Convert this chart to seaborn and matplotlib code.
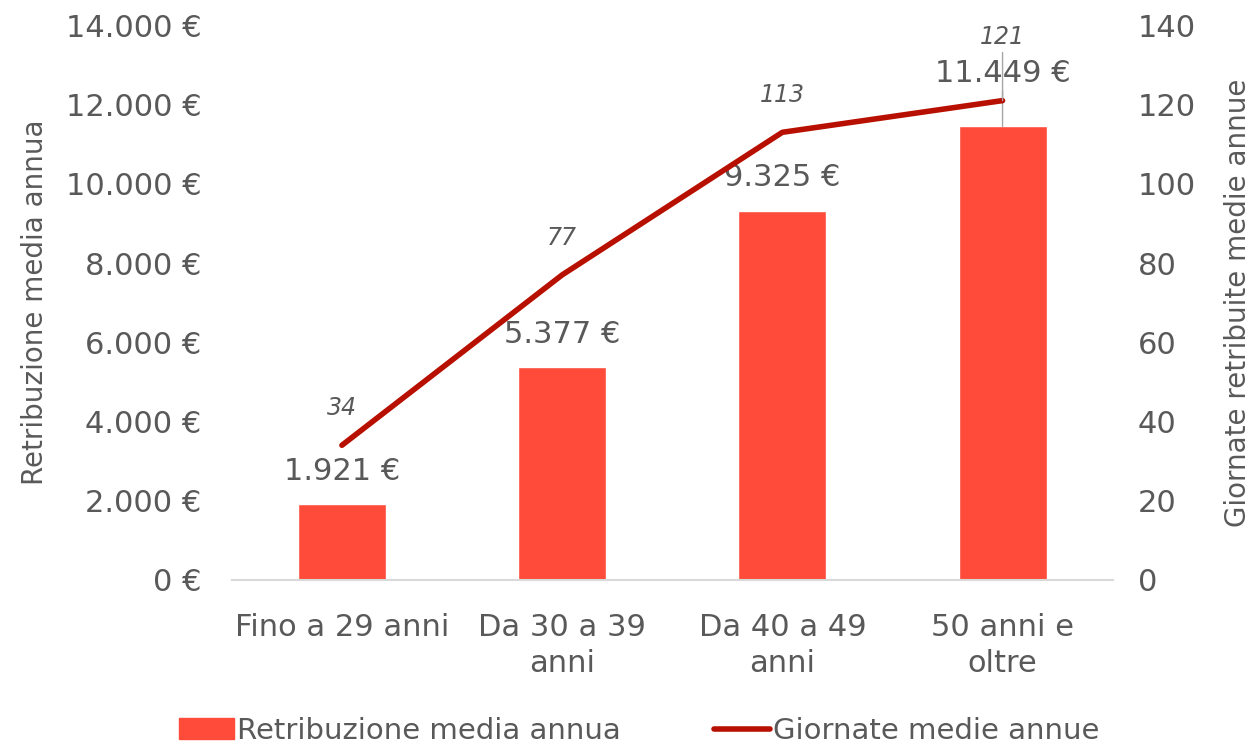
import numpy as np
import pandas as pd
import matplotlib
matplotlib.use("Agg")
import matplotlib.pyplot as plt
import seaborn as sns
from matplotlib.patches import Patch
from matplotlib.lines import Line2D

# data
categories = ["Fino a 29 anni", "Da 30 a 39\nanni", "Da 40 a 49\nanni", "50 anni e\noltre"]
retribuzione = [1921, 5377, 9325, 11449]
giornate = [34, 77, 113, 121]

bar_color = "#FF4B3A"
line_color = "#B81000"
text_color = "#595959"

sns.set_style("white")
plt.rcParams["font.family"] = ["DejaVu Sans"]

df = pd.DataFrame({"cat": categories, "retr": retribuzione, "gg": giornate})
df["pos"] = np.arange(len(df))

fig = plt.figure(figsize=(12.53, 7.45), dpi=100)
ax = fig.add_axes([0.185, 0.2215, 0.703, 0.7445])

sns.barplot(data=df, x="cat", y="retr", color=bar_color, width=0.4,
            saturation=1, ax=ax)
ax.set_xlim(-0.5, 3.5)
ax.set_ylim(0, 14000)
ax.set_yticks(np.arange(0, 14001, 2000))
ax.set_yticklabels([f"{int(v):,} €".replace(",", ".") for v in np.arange(0, 14001, 2000)])
ax.set_xlabel("")
ax.set_ylabel("Retribuzione media annua", fontsize=20, color=text_color, labelpad=12)
ax.tick_params(axis="y", labelsize=22, colors=text_color, length=0, pad=22)
ax.tick_params(axis="x", labelsize=22, colors=text_color, length=0, pad=24)
for lbl in ax.get_xticklabels():
    lbl.set_linespacing(1.3)
for s in ["top", "left", "right"]:
    ax.spines[s].set_visible(False)
ax.spines["bottom"].set_color("#D9D9D9")
ax.spines["bottom"].set_linewidth(1.5)

# bar labels; the last one sits higher with a leader line
for i, v in enumerate(retribuzione):
    if i == len(retribuzione) - 1:
        ax.annotate(f"{v:,} €".replace(",", "."), (i, v), xytext=(0, 28),
                    textcoords="offset points", ha="center", va="bottom",
                    fontsize=22, color=text_color,
                    arrowprops=dict(arrowstyle="-", color="#A6A6A6", lw=1,
                                    shrinkA=0, shrinkB=0))
    else:
        ax.annotate(f"{v:,} €".replace(",", "."), (i, v), xytext=(0, 13),
                    textcoords="offset points", ha="center", va="bottom",
                    fontsize=22, color=text_color)

ax2 = ax.twinx()
sns.lineplot(data=df, x="pos", y="gg", color=line_color, linewidth=4, ax=ax2)
ax2.set_ylim(0, 140)
ax2.set_yticks(np.arange(0, 141, 20))
ax2.set_ylabel("Giornate retribuite medie annue", fontsize=20, color=text_color, labelpad=20)
ax2.set_xlabel("")
ax2.tick_params(axis="y", labelsize=22, colors=text_color, length=0, pad=18)
for s in ["top", "left", "right", "bottom"]:
    ax2.spines[s].set_visible(False)

for i, v in enumerate(giornate):
    if i == len(giornate) - 1:
        ax2.annotate(str(v), (i, v), xytext=(0, 37), textcoords="offset points",
                     ha="center", va="bottom", fontsize=17, style="italic",
                     color=text_color,
                     arrowprops=dict(arrowstyle="-", color="#A6A6A6", lw=1,
                                     shrinkA=0, shrinkB=0))
    else:
        ax2.annotate(str(v), (i, v), xytext=(0, 18), textcoords="offset points",
                     ha="center", va="bottom", fontsize=17, style="italic",
                     color=text_color)

handles = [Patch(color=bar_color, label="Retribuzione media annua"),
           Line2D([0], [0], color=line_color, lw=4, label="Giornate medie annue")]
leg = fig.legend(handles=handles, loc="lower center", bbox_to_anchor=(0.51, -0.035),
                 ncol=2, frameon=False, fontsize=21, handlelength=1.9,
                 handletextpad=0.1, columnspacing=3.2)
for t in leg.get_texts():
    t.set_color(text_color)

fig.savefig("out.png", dpi=100)
